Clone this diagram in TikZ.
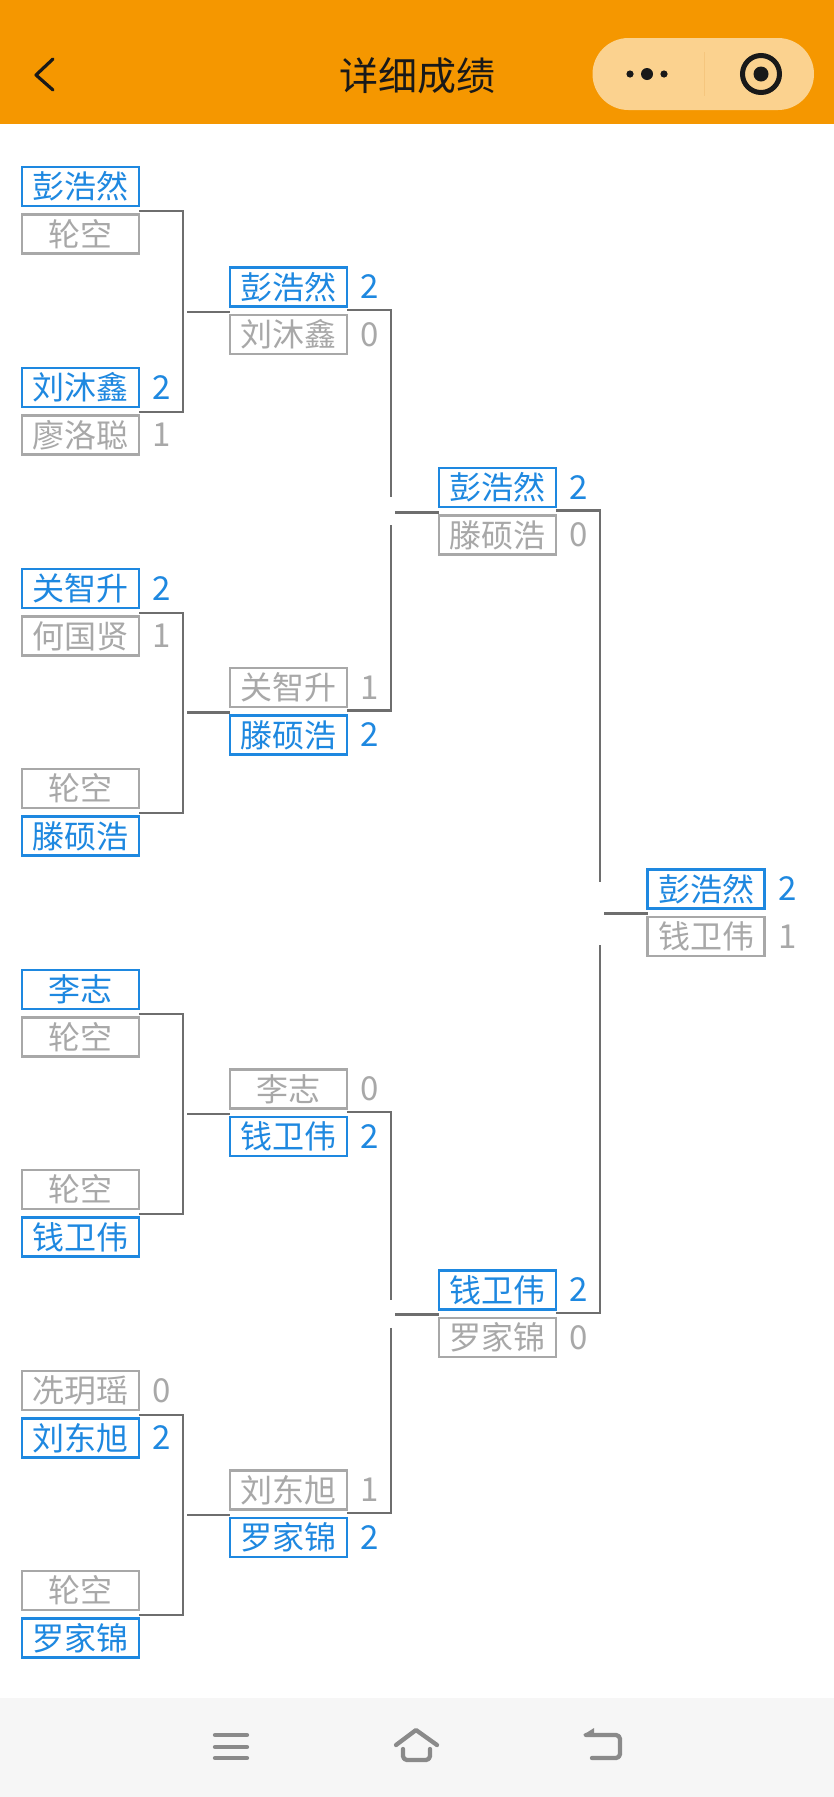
\documentclass[tikz,border=0pt]{standalone}
\usepackage{fontspec}
\setmainfont{Noto Sans CJK SC}
\usetikzlibrary{calc}
\definecolor{barorange}{HTML}{F59700}
\definecolor{capsule}{HTML}{FBD28F}
\definecolor{capline}{HTML}{F5C67E}
\definecolor{winblue}{HTML}{1E88E0}
\definecolor{losegray}{HTML}{A8A8A8}
\definecolor{linkgray}{HTML}{6E6E6E}
\definecolor{footbg}{HTML}{F6F6F6}
\definecolor{footicon}{HTML}{8A8A8A}
\tikzset{
  win/.style={draw=winblue,text=winblue,line width=2.4pt,minimum width=117pt,minimum height=39pt,inner sep=0pt,outer sep=0pt,font=\fontsize{32}{32}\selectfont},
  lose/.style={draw=losegray,text=losegray,line width=2.4pt,minimum width=117pt,minimum height=39pt,inner sep=0pt,outer sep=0pt,font=\fontsize{32}{32}\selectfont},
  winscore/.style={text=winblue,inner sep=0pt,font=\fontsize{33}{33}\selectfont},
  losescore/.style={text=losegray,inner sep=0pt,font=\fontsize{33}{33}\selectfont},
  link/.style={draw=linkgray,line width=2.6pt},
  footline/.style={draw=footicon,line width=4.3pt,line cap=round,line join=round},
}
\newcommand{\oshift}{0}
\newcommand{\ishift}{0}
% \duel{name}{x}{ytop}{top style}{top text}{top score}{bottom style}{bottom text}{bottom score}
\newcommand{\duel}[9]{%
  \node[#4] (#1t) at (#2,#3) {#5};
  \node[#7] (#1b) at (#2,#3+47.5) {#8};
  \node[#4score] (#1ts) at ($(#1t.east)+(23,0)$) {#6};
  \node[#7score] (#1bs) at ($(#1b.east)+(23,0)$) {#9};
  \coordinate (#1o) at ($(#1t.south east)!.5!(#1b.north east)+(0,\oshift)$);
  \coordinate (#1i) at ($(#1t.south west)!.5!(#1b.north west)+(0,\ishift)$);
}
% first round: unbroken upright, stem starts just clear of it
\newcommand{\joinA}[3]{%
  \coordinate (#3v) at ($(#1o)+(44,0)$);
  \draw[link] (#1o) -| (#3v |- #2o) -- (#2o);
  \coordinate (#3s) at (#3v |- #3i);
  \draw[link] ($(#3s)+(4,0)$) -- (#3i);
}
% later rounds: upright broken round the stem; #4 and #5 size the break
\newcommand{\joinB}[5]{%
  \coordinate (#3v) at ($(#1o)+(44,0)$);
  \coordinate (#3s) at (#3v |- #3i);
  \draw[link] (#1o) -- (#3v) -- ($(#3s)+(0,-#4)$);
  \draw[link] ($(#3s)+(0,#5)$) -- (#3v |- #2o) -- (#2o);
  \draw[link] ($(#3s)+(4,0)$) -- (#3i);
}
\begin{document}
\begin{tikzpicture}[x=1pt,y=-1pt]
\useasboundingbox (0,0) rectangle (834,1797);
\fill[white] (0,0) rectangle (834,1797);
% top bar
\fill[barorange] (0,0) rectangle (834,124);
\draw[black!90,line width=3.2pt,line cap=round,line join=round] (53,59) -- (36,75) -- (53,90);
\node[text=black!90,inner sep=0pt,font=\fontsize{39}{39}\selectfont] (title) at (417,76) {详细成绩};
\fill[capsule,rounded corners=36pt] (592.5,38) rectangle (814,110);
\draw[capline,line width=1pt] (704,52) -- (704,96);
\fill[black!90] (630,74) circle (3.6pt) (647,74) circle (6pt) (664,74) circle (3.6pt);
\draw[black!90,line width=5pt] (761,74) circle (18.5pt);
\fill[black!90] (761,74) circle (7.5pt);
% round 1
\renewcommand{\oshift}{0.7}
\duel{a}{80.5}{186.5}{win}{彭浩然}{}{lose}{轮空}{}
\duel{b}{80.5}{387.5}{win}{刘沐鑫}{2}{lose}{廖洛聪}{1}
\duel{c}{80.5}{588.5}{win}{关智升}{2}{lose}{何国贤}{1}
\duel{d}{80.5}{788.5}{lose}{轮空}{}{win}{滕硕浩}{}
\duel{e}{80.5}{989.5}{win}{李志}{}{lose}{轮空}{}
\duel{f}{80.5}{1189.5}{lose}{轮空}{}{win}{钱卫伟}{}
\duel{g}{80.5}{1390.5}{lose}{冼玥瑶}{0}{win}{刘东旭}{2}
\duel{h}{80.5}{1590.5}{lose}{轮空}{}{win}{罗家锦}{}
% round 2
\renewcommand{\oshift}{-0.8}
\renewcommand{\ishift}{1.2}
\duel{p}{288.5}{287}{win}{彭浩然}{2}{lose}{刘沐鑫}{0}
\duel{q}{288.5}{687.5}{lose}{关智升}{1}{win}{滕硕浩}{2}
\duel{r}{288.5}{1089}{lose}{李志}{0}{win}{钱卫伟}{2}
\duel{s}{288.5}{1490}{lose}{刘东旭}{1}{win}{罗家锦}{2}
% round 3
\renewcommand{\oshift}{-0.8}
\renewcommand{\ishift}{1}
\duel{u}{497.5}{487.5}{win}{彭浩然}{2}{lose}{滕硕浩}{0}
\duel{v}{497.5}{1290}{win}{钱卫伟}{2}{lose}{罗家锦}{0}
% final
\renewcommand{\ishift}{0.5}
\duel{z}{706}{889}{win}{彭浩然}{2}{lose}{钱卫伟}{1}
% connectors
\joinA{a}{b}{p}
\joinA{c}{d}{q}
\joinA{e}{f}{r}
\joinA{g}{h}{s}
\joinB{p}{q}{u}{15}{13}
\joinB{r}{s}{v}{15}{13}
\joinB{u}{v}{z}{31}{32}
% bottom bar
\fill[footbg] (0,1698) rectangle (834,1797);
\draw[footline] (215,1735) -- (247,1735) (215,1747) -- (247,1747) (215,1758) -- (247,1758);
\draw[footline] (396,1745) -- (416,1730) -- (437,1745);
\draw[footline,rounded corners=4pt] (403,1749) -- (403,1760) -- (430,1760) -- (430,1749);
\draw[footline,rounded corners=4pt] (586,1735) -- (620,1735) -- (620,1758) -- (592,1758);
\fill[footicon] (583,1735) -- (594,1728) -- (594,1737) -- cycle;
\end{tikzpicture}
\end{document}
